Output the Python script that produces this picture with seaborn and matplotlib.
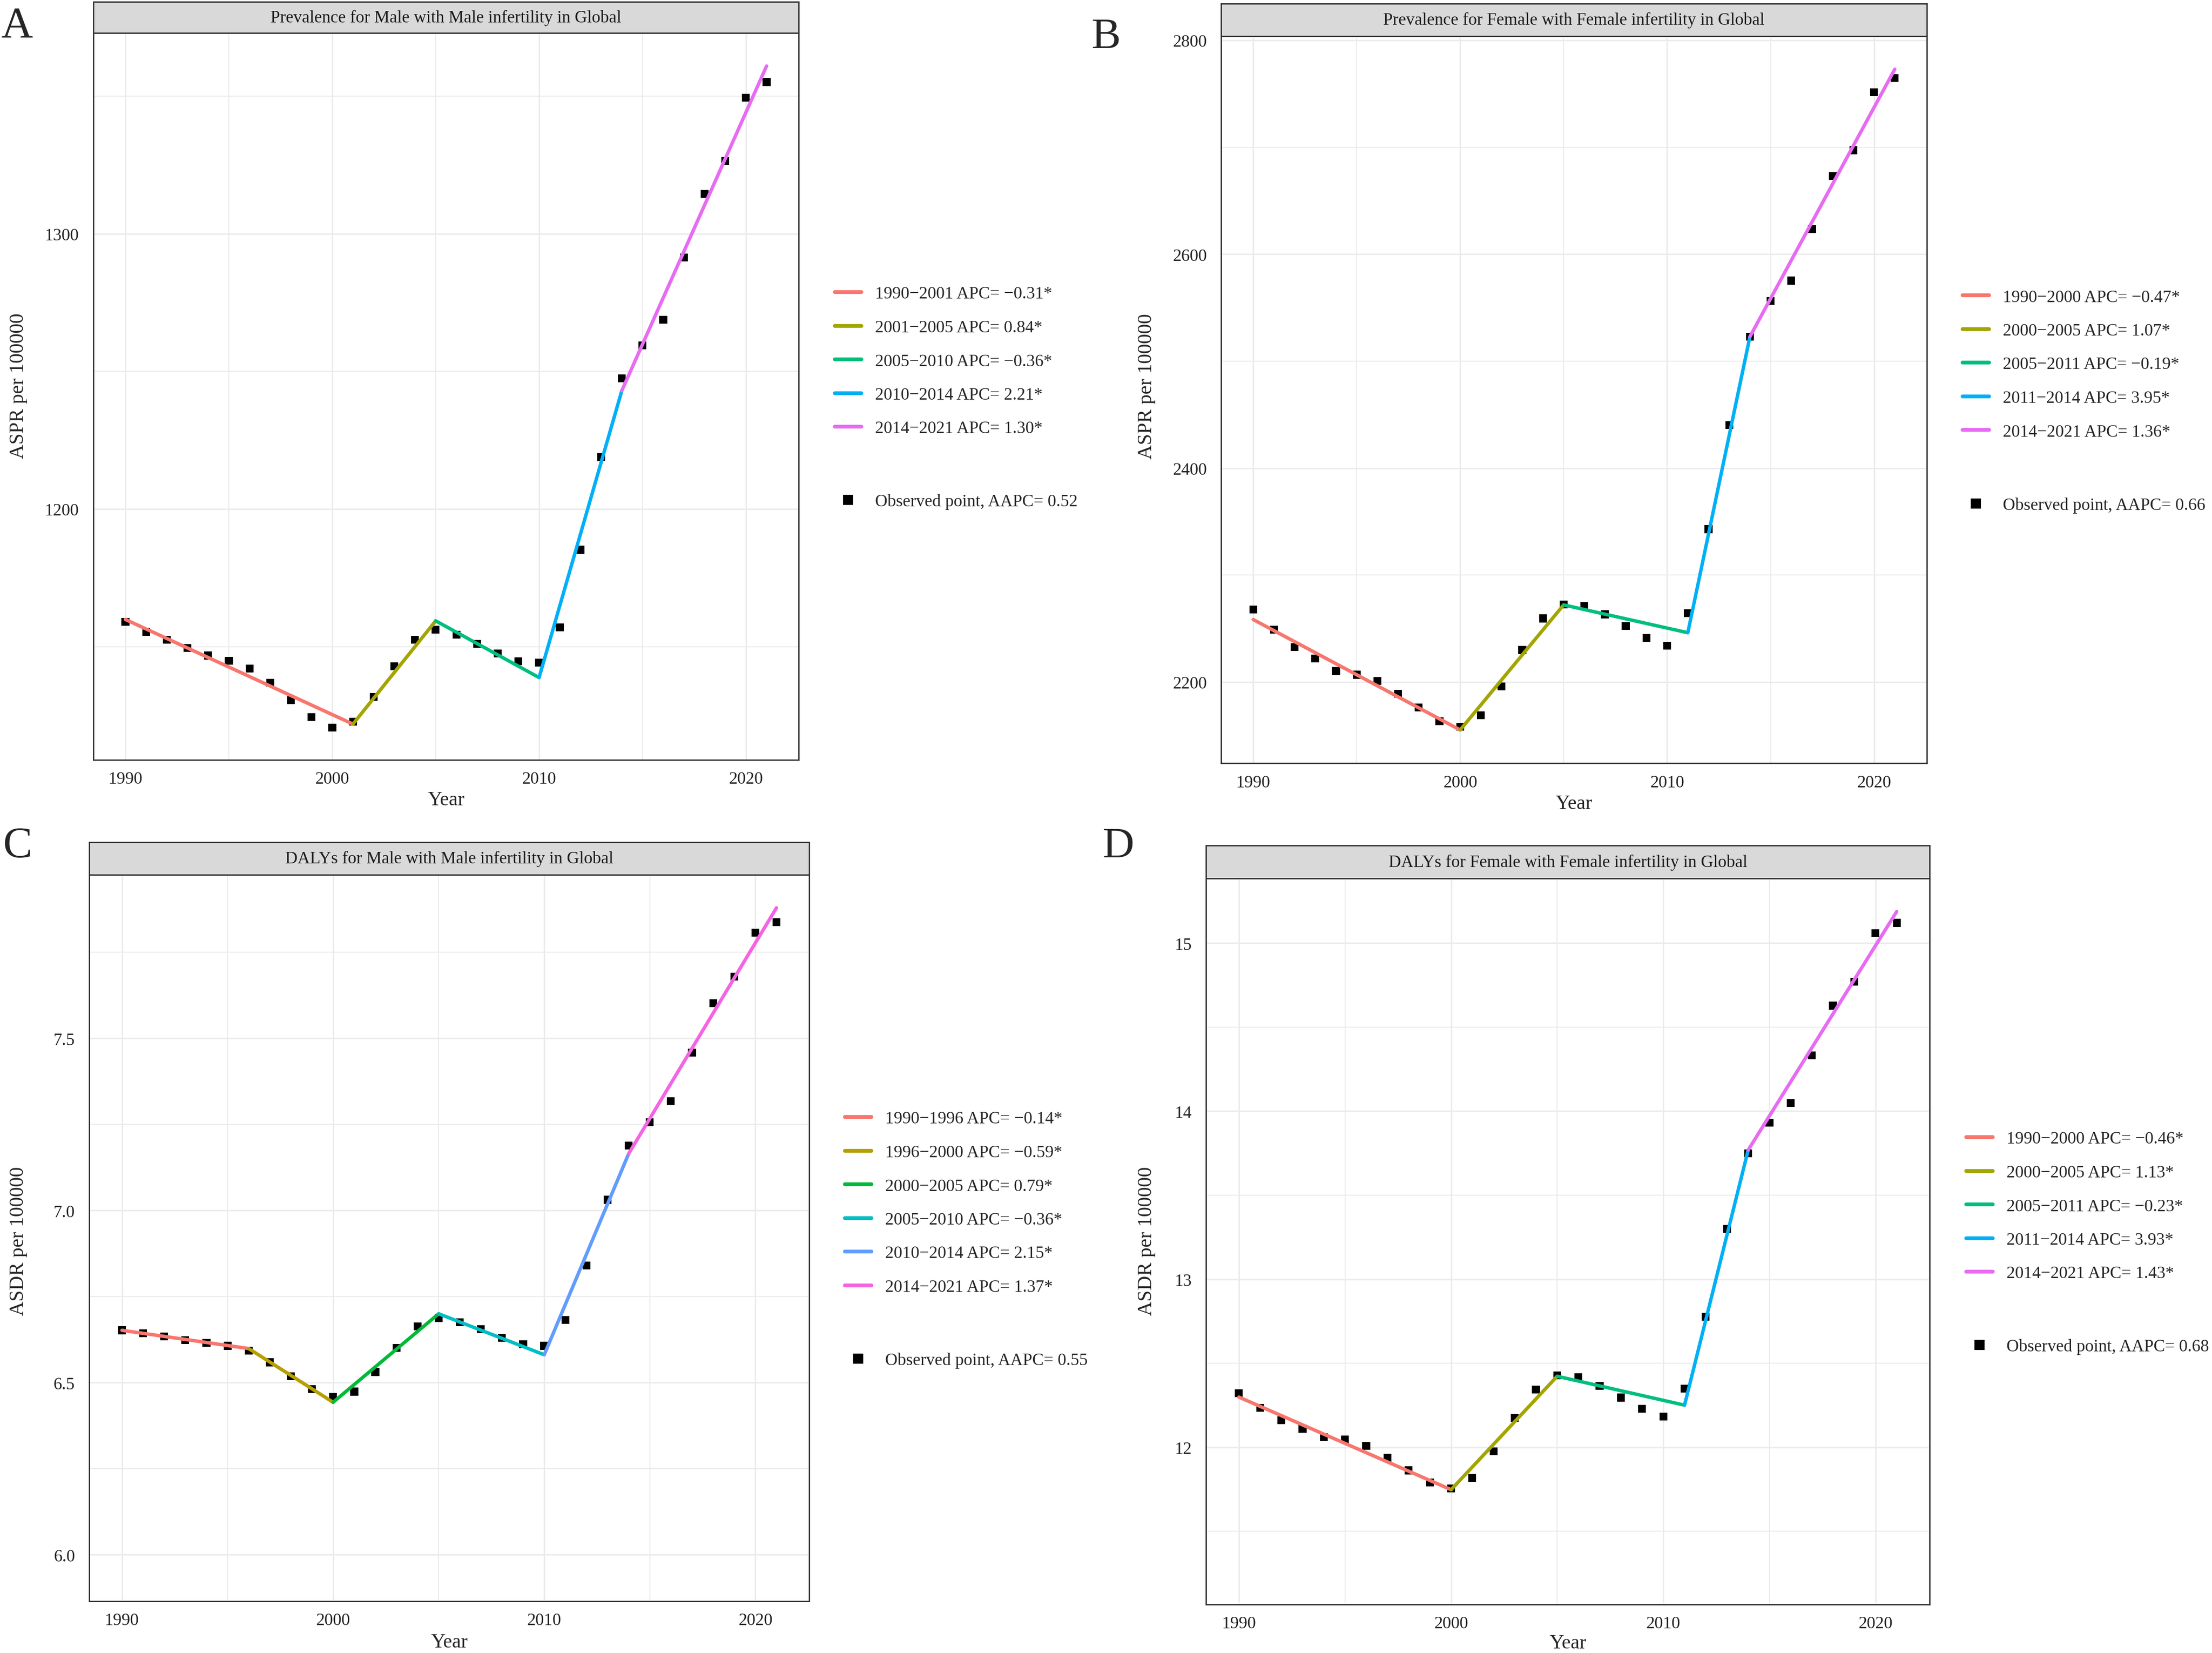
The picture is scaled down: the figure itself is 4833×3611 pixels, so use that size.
import numpy as np
import pandas as pd
import matplotlib
matplotlib.use("Agg")
import matplotlib.pyplot as plt
import seaborn as sns
from matplotlib.ticker import FixedLocator, FormatStrFormatter
from matplotlib.lines import Line2D

# ---------------- data ----------------
years = list(range(1990, 2022))

a_obs = [1159.0, 1155.3, 1152.5, 1149.5, 1146.8, 1144.9, 1142.1, 1136.9, 1130.6, 1124.5,
         1120.6, 1122.8, 1131.7, 1142.9, 1152.5, 1156.2, 1154.4, 1151.0, 1147.5, 1144.7,
         1144.2, 1157.0, 1185.2, 1218.9, 1247.5, 1259.4, 1268.8, 1291.3, 1314.5, 1326.5,
         1349.4, 1355.1]
a_joint_years = [1990, 2001, 2005, 2010, 2014, 2021]
a_joint_vals = [1159.9, 1121.9, 1159.4, 1138.8, 1243.0, 1360.9]
a_labels = ["1990\u22122001 APC= \u22120.31*", "2001\u22122005 APC= 0.84*",
            "2005\u22122010 APC= \u22120.36*", "2010\u22122014 APC= 2.21*",
            "2014\u22122021 APC= 1.30*"]
a_aapc = "Observed point, AAPC= 0.52"
a_title = "Prevalence for Male with Male infertility in Global"
a_ylabel = "ASPR per 100000"
a_yticks = [1200, 1300]
a_yminor = [1150, 1250, 1350]

b_obs = [2267.8, 2249.2, 2232.9, 2222.1, 2210.3, 2206.9, 2201.0, 2189.2, 2176.4, 2163.6,
         2158.2, 2169.0, 2196.1, 2230.0, 2259.5, 2272.7, 2271.3, 2263.4, 2252.6, 2241.3,
         2233.9, 2264.4, 2343.0, 2440.3, 2522.9, 2556.3, 2575.4, 2623.6, 2673.2, 2697.3,
         2751.4, 2764.6]
b_joint_years = [1990, 2000, 2005, 2011, 2014, 2021]
b_joint_vals = [2258.5, 2155.3, 2272.2, 2246.2, 2522.9, 2773.0]
b_labels = ["1990\u22122000 APC= \u22120.47*", "2000\u22122005 APC= 1.07*",
            "2005\u22122011 APC= \u22120.19*", "2011\u22122014 APC= 3.95*",
            "2014\u22122021 APC= 1.36*"]
b_aapc = "Observed point, AAPC= 0.66"
b_title = "Prevalence for Female with Female infertility in Global"
b_ylabel = "ASPR per 100000"
b_yticks = [2200, 2400, 2600, 2800]
b_yminor = [2300, 2500, 2700]

c_obs = [6.652, 6.643, 6.634, 6.624, 6.615, 6.607, 6.593, 6.559, 6.519, 6.481,
         6.458, 6.474, 6.531, 6.601, 6.663, 6.688, 6.675, 6.655, 6.630, 6.612,
         6.607, 6.682, 6.840, 7.031, 7.189, 7.256, 7.317, 7.458, 7.602, 7.679,
         7.807, 7.837]
c_joint_years = [1990, 1996, 2000, 2005, 2010, 2014, 2021]
c_joint_vals = [6.652, 6.599, 6.443, 6.700, 6.581, 7.165, 7.879]
c_labels = ["1990\u22121996 APC= \u22120.14*", "1996\u22122000 APC= \u22120.59*",
            "2000\u22122005 APC= 0.79*", "2005\u22122010 APC= \u22120.36*",
            "2010\u22122014 APC= 2.15*", "2014\u22122021 APC= 1.37*"]
c_aapc = "Observed point, AAPC= 0.55"
c_title = "DALYs for Male with Male infertility in Global"
c_ylabel = "ASDR per 100000"
c_yticks = [6.0, 6.5, 7.0, 7.5]
c_yminor = [6.25, 6.75, 7.25, 7.75]

d_obs = [12.321, 12.235, 12.162, 12.111, 12.060, 12.047, 12.009, 11.939, 11.863, 11.790,
         11.755, 11.818, 11.977, 12.175, 12.343, 12.429, 12.416, 12.366, 12.296, 12.229,
         12.184, 12.350, 12.776, 13.301, 13.750, 13.931, 14.049, 14.332, 14.628, 14.771,
         15.060, 15.121]
d_joint_years = [1990, 2000, 2005, 2011, 2014, 2021]
d_joint_vals = [12.299, 11.748, 12.423, 12.251, 13.769, 15.188]
d_labels = ["1990\u22122000 APC= \u22120.46*", "2000\u22122005 APC= 1.13*",
            "2005\u22122011 APC= \u22120.23*", "2011\u22122014 APC= 3.93*",
            "2014\u22122021 APC= 1.43*"]
d_aapc = "Observed point, AAPC= 0.68"
d_title = "DALYs for Female with Female infertility in Global"
d_ylabel = "ASDR per 100000"
d_yticks = [12, 13, 14, 15]
d_yminor = [11.5, 12.5, 13.5, 14.5]

x_ticks = [1990, 2000, 2010, 2020]
x_minor = [1995, 2005, 2015]
panel_letters = ["A", "B", "C", "D"]

pal5 = ["#F8766D", "#A3A500", "#00BF7D", "#00B0F6", "#E76BF3"]
pal6 = ["#F8766D", "#B79F00", "#00BA38", "#00BFC4", "#619CFF", "#F564E3"]

# ---------------- style ----------------
sns.set_style("white")
plt.rcParams["font.family"] = ["Liberation Serif", "DejaVu Serif"]

W, H = 4833, 3612
DPI = 300
fig = plt.figure(figsize=(W / DPI, H / DPI), dpi=DPI)
fig.patch.set_facecolor("white")


def rect(l, t, r, b):
    return [l / W, 1 - b / H, (r - l) / W, (b - t) / H]


panels = [
    dict(obs=a_obs, jy=a_joint_years, jv=a_joint_vals, labels=a_labels, aapc=a_aapc,
         title=a_title, ylabel=a_ylabel, yt=a_yticks, ym=a_yminor, pal=pal5,
         ylim=(1108.9, 1372.9), fmt="%d",
         box=(204, 5, 1745, 73, 1661), ylab=(40, 843), xlab_y=1748, letter=(2, 82),
         leg=(1824, 640), obs_y=1097),
    dict(obs=b_obs, jy=b_joint_years, jv=b_joint_vals, labels=b_labels, aapc=b_aapc,
         title=b_title, ylabel=b_ylabel, yt=b_yticks, ym=b_yminor, pal=pal5,
         ylim=(2124.3, 2803.9), fmt="%d",
         box=(2668, 9, 4210, 80, 1668), ylab=(2505, 844), xlab_y=1756, letter=(2384, 106),
         leg=(4288, 647), obs_y=1105),
    dict(obs=c_obs, jy=c_joint_years, jv=c_joint_vals, labels=c_labels, aapc=c_aapc,
         title=c_title, ylabel=c_ylabel, yt=c_yticks, ym=c_yminor, pal=pal6,
         ylim=(5.865, 7.975), fmt="%.1f",
         box=(195, 1841, 1768, 1912, 3499), ylab=(40, 2711), xlab_y=3588, letter=(6, 1873),
         leg=(1846, 2442), obs_y=2973),
    dict(obs=d_obs, jy=d_joint_years, jv=d_joint_vals, labels=d_labels, aapc=d_aapc,
         title=d_title, ylabel=d_ylabel, yt=d_yticks, ym=d_yminor, pal=pal5,
         ylim=(11.065, 15.385), fmt="%d",
         box=(2635, 1848, 4216, 1920, 3506), ylab=(2505, 2711), xlab_y=3590, letter=(2408, 1873),
         leg=(4296, 2486), obs_y=2943),
]

EDGE = "#333333"
FS_TICK = 9
FS_TITLE = 10.5
FS_LEG = 9

for letter, p in zip(panel_letters, panels):
    l, st, r, sb, b = p["box"]
    ax = fig.add_axes(rect(l, sb, r, b))
    ax.set_facecolor("white")

    # segments (joinpoint fit)
    rows = []
    for i, lab in enumerate(p["labels"]):
        rows.append({"Year": p["jy"][i], "Value": p["jv"][i], "Segment": lab})
        rows.append({"Year": p["jy"][i + 1], "Value": p["jv"][i + 1], "Segment": lab})
    seg_df = pd.DataFrame(rows)
    obs_df = pd.DataFrame({"Year": years, "Value": p["obs"]})

    sns.scatterplot(data=obs_df, x="Year", y="Value", marker="s", color="black", s=17,
                    linewidth=0, edgecolor="none", legend=False, ax=ax, zorder=3)
    sns.lineplot(data=seg_df, x="Year", y="Value", hue="Segment", hue_order=p["labels"],
                 palette=p["pal"], estimator=None, sort=False, linewidth=1.8,
                 legend=False, ax=ax, zorder=4)

    ax.set_xlim(1990 - 1.55, 2021 + 1.55)
    ax.set_ylim(*p["ylim"])
    ax.xaxis.set_major_locator(FixedLocator(x_ticks))
    ax.xaxis.set_minor_locator(FixedLocator(x_minor))
    ax.yaxis.set_major_locator(FixedLocator(p["yt"]))
    ax.yaxis.set_minor_locator(FixedLocator(p["ym"]))
    ax.yaxis.set_major_formatter(FormatStrFormatter(p["fmt"]))
    ax.xaxis.set_major_formatter(FormatStrFormatter("%d"))
    ax.set_axisbelow(True)
    ax.grid(which="major", color="#EBEBEB", linewidth=0.75)
    ax.grid(which="minor", color="#EBEBEB", linewidth=0.55)
    ax.tick_params(which="minor", length=0)
    ax.tick_params(which="major", length=3.5, width=0.6, color=EDGE,
                   labelsize=FS_TICK, labelcolor="#222222")
    ax.tick_params(axis="y", pad=4)
    ax.tick_params(axis="x", pad=2.5)
    for s in ax.spines.values():
        s.set_color(EDGE)
        s.set_linewidth(0.7)
        s.set_visible(True)

    ax.set_ylabel(p["ylabel"], fontsize=FS_TITLE, va="center", ha="center",
                  rotation=90, rotation_mode="anchor")
    ax.yaxis.set_label_coords(p["ylab"][0] / W, 1 - p["ylab"][1] / H,
                              transform=fig.transFigure)
    ax.set_xlabel("Year", fontsize=FS_TITLE, va="center", ha="center")
    ax.xaxis.set_label_coords(((l + r) / 2) / W, 1 - p["xlab_y"] / H,
                              transform=fig.transFigure)

    # strip
    sax = fig.add_axes(rect(l, st, r, sb))
    sax.set_facecolor("#D9D9D9")
    sax.set_xticks([])
    sax.set_yticks([])
    for s in sax.spines.values():
        s.set_color(EDGE)
        s.set_linewidth(0.7)
        s.set_visible(True)
    sax.text(0.5, 0.5, p["title"], ha="center", va="center", fontsize=FS_LEG,
             color="#1A1A1A", transform=sax.transAxes)

    # panel letter
    fig.text(p["letter"][0] / W, 1 - p["letter"][1] / H, letter, fontsize=23,
             ha="left", va="baseline")

    # legends
    handles = [Line2D([0], [0], color=c, linewidth=2.0) for c in p["pal"]]
    lx, ly = p["leg"]
    fig.legend(handles, p["labels"], loc="upper left",
               bbox_to_anchor=(lx / W, 1 - (ly - 14) / H), frameon=False,
               fontsize=FS_LEG, handlelength=1.55, handletextpad=0.8,
               labelspacing=1.04, borderpad=0, borderaxespad=0)
    oh = [Line2D([0], [0], marker="s", color="black", linestyle="None", markersize=4.1)]
    fig.legend(oh, [p["aapc"]], loc="center left",
               bbox_to_anchor=(lx / W, 1 - p["obs_y"] / H), frameon=False,
               fontsize=FS_LEG, handlelength=1.55, handletextpad=0.8,
               borderpad=0, borderaxespad=0)

fig.savefig("out.png", dpi=DPI, facecolor="white")
